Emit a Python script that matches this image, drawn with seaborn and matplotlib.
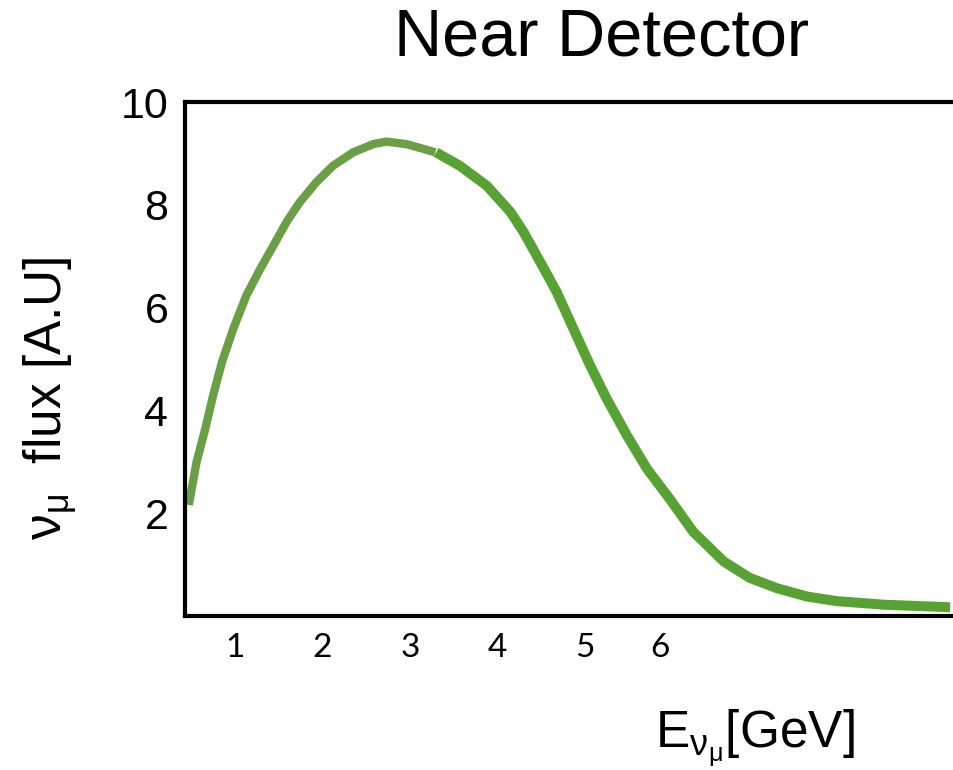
import matplotlib
matplotlib.use("Agg")
import matplotlib.pyplot as plt
import matplotlib.transforms as mtransforms
import seaborn as sns
import pandas as pd

# Muon-neutrino flux at the near detector (arbitrary units)
energy_rise = [0.47, 0.56, 0.66, 0.75, 0.85, 0.98, 1.13, 1.29, 1.44, 1.59,
               1.74, 1.93, 2.12, 2.35, 2.58, 2.73, 2.96, 3.15, 3.29]
flux_rise = [2.16, 3.00, 3.65, 4.30, 4.94, 5.59, 6.24, 6.76, 7.21, 7.67,
             8.05, 8.44, 8.76, 9.02, 9.18, 9.23, 9.18, 9.09, 9.02]
energy_fall = [3.30, 3.57, 3.88, 4.15, 4.30, 4.49, 4.68, 4.87, 5.06, 5.25,
               5.48, 5.71, 5.98, 6.24, 6.47, 6.59, 6.89, 7.20, 7.54, 7.88,
               8.42, 9.18]
flux_fall = [9.02, 8.76, 8.37, 7.86, 7.47, 6.89, 6.30, 5.59, 4.88, 4.23,
             3.52, 2.87, 2.26, 1.64, 1.26, 1.06, 0.74, 0.54, 0.38, 0.29,
             0.22, 0.17]

x_ticks = [1, 2, 3, 4, 5, 6]
x_tick_labels = ["1", "2", "3", "4", "5", "6"]
x_minor_ticks = [1.25, 2.84, 4.42, 6.01, 7.60, 9.19]
y_ticks = [2, 4, 6, 8, 10]
y_tick_labels = ["2", "4", "6", "8", "10"]

sns.set_theme(style="white")
plt.rcParams["font.family"] = ["Liberation Sans", "DejaVu Sans"]
plt.rcParams["mathtext.fontset"] = "custom"
plt.rcParams["mathtext.rm"] = "Liberation Sans"
plt.rcParams["mathtext.it"] = "Liberation Sans"
for key in ("text.color", "axes.labelcolor", "xtick.color", "ytick.color"):
    plt.rcParams[key] = "black"

fig = plt.figure(figsize=(9.54, 7.70), dpi=100)
ax = fig.add_axes([185 / 954, 1 - 616 / 770, (951 - 185) / 954, (616 - 102) / 770])

rise = pd.DataFrame({"E": energy_rise, "flux": flux_rise})
fall = pd.DataFrame({"E": energy_fall, "flux": flux_fall})
sns.lineplot(data=rise, x="E", y="flux", ax=ax, color="#6a9f45", linewidth=6.0,
             sort=False, solid_capstyle="butt", solid_joinstyle="round")
sns.lineplot(data=fall, x="E", y="flux", ax=ax, color="#57a233", linewidth=7.2,
             sort=False, solid_capstyle="butt", solid_joinstyle="round")

ax.set_xlim(0.427, 9.19)
ax.set_ylim(0, 10.0)

ax.set_xticks(x_ticks)
ax.set_xticklabels(x_tick_labels, fontfamily="Lato", fontsize=24)
ax.set_xticks(x_minor_ticks, minor=True)
ax.tick_params(axis="x", which="major", length=0, pad=12)
ax.tick_params(axis="x", which="minor", direction="in", length=7, width=1.0,
               color="#333333")
# the last energy label sits a little to the left of its grid position
last = ax.get_xticklabels()[-1]
last.set_transform(last.get_transform() +
                   mtransforms.ScaledTranslation(-12 / 100, 0, fig.dpi_scale_trans))

ax.set_yticks(y_ticks)
ax.set_yticklabels(y_tick_labels, fontsize=31)
ax.tick_params(axis="y", length=0, pad=12)

for side in ("left", "bottom", "top"):
    ax.spines[side].set_visible(True)
    ax.spines[side].set_color("black")
    ax.spines[side].set_linewidth(3.0)
ax.spines["right"].set_visible(False)

ax.set_xlabel("")
ax.set_ylabel("")
fig.text(50 / 954, 1 - 398 / 770, r"$\mathrm{\nu_{\mu}}$  flux [A.U]", rotation=90,
         ha="center", va="center", fontsize=37)
fig.text(755 / 954, 1 - 738 / 770, r"$\mathrm{E_{\nu_{\mu}}}$[GeV]",
         ha="center", va="center", fontsize=37)
fig.text(601 / 954, 1 - 38 / 770, "Near Detector", ha="center", va="center",
         fontsize=48)

fig.savefig("out.png", dpi=100)
